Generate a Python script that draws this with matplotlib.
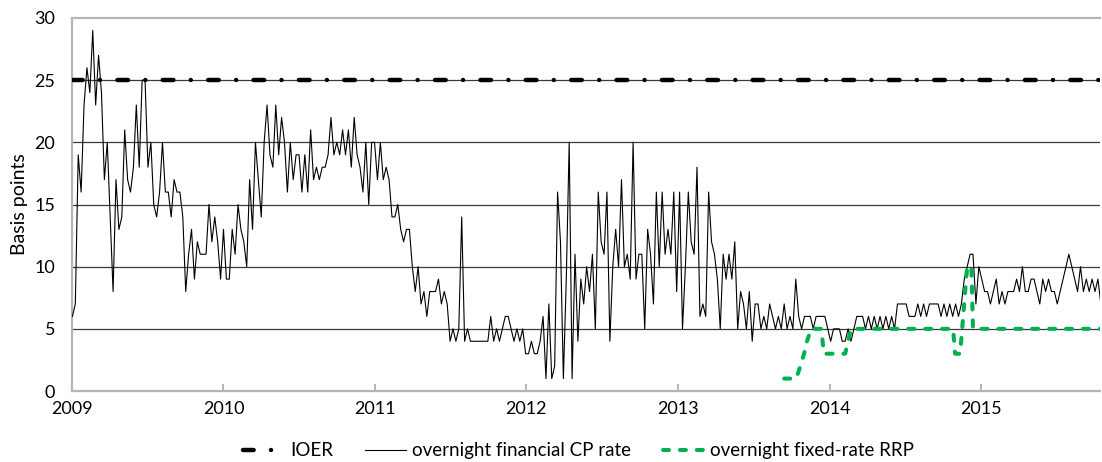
import matplotlib
matplotlib.use('Agg')
import matplotlib.pyplot as plt
import matplotlib.dates as mdates
import pandas as pd

plt.rcParams['font.family'] = ['Lato', 'DejaVu Sans']

# weekly overnight financial CP rate (bp), one list per year
cp_2009 = [6, 7, 19, 16, 23, 26, 24, 29, 23, 27, 24, 17, 20, 14, 8, 17, 13, 14, 21, 17,
           16, 18, 23, 18, 25, 25, 18, 20, 15, 14, 16, 20, 16, 16, 14, 17, 16, 16, 14, 8,
           11, 13, 9, 12, 11, 11, 11, 15, 12, 14, 12, 9]
cp_2010 = [13, 9, 9, 13, 11, 15, 13, 12, 10, 17, 13, 20, 17, 14, 20, 23, 19, 18, 23, 19,
           22, 20, 16, 20, 17, 19, 19, 16, 19, 16, 21, 17, 18, 17, 18, 18, 19, 22, 19, 20,
           19, 21, 19, 21, 18, 22, 19, 18, 16, 20, 15, 20]
cp_2011 = [20, 17, 20, 17, 18, 17, 14, 14, 15, 13, 12, 13, 13, 10, 8, 10, 7, 8, 6, 8,
           8, 8, 9, 7, 8, 7, 4, 5, 4, 5, 14, 4, 5, 4, 4, 4, 4, 4, 4, 4,
           6, 4, 5, 4, 5, 6, 6, 5, 4, 5, 4, 5]
cp_2012 = [3, 3, 4, 3, 3, 4, 6, 1, 7, 1, 2, 16, 12, 1, 9, 20, 1, 11, 4, 9,
           7, 10, 8, 11, 5, 16, 12, 11, 16, 4, 10, 13, 10, 17, 10, 11, 9, 20, 9, 11,
           11, 5, 13, 11, 7, 16, 10, 16, 11, 13, 11, 16, 8]
cp_2013 = [16, 5, 10, 16, 12, 11, 18, 6, 7, 6, 16, 12, 11, 9, 5, 11, 9, 11, 9, 12,
           5, 8, 7, 5, 8, 4, 7, 7, 5, 6, 5, 7, 6, 5, 6, 5, 7, 5, 6, 5,
           9, 6, 5, 6, 6, 6, 5, 6, 6, 6, 6, 5]
cp_2014 = [4, 5, 5, 5, 4, 4, 5, 4, 5, 6, 6, 6, 5, 6, 5, 6, 5, 6, 5, 6,
           5, 6, 5, 7, 7, 7, 7, 6, 6, 6, 7, 6, 7, 6, 7, 7, 7, 7, 6, 7,
           6, 7, 6, 7, 6, 7, 9, 10, 11, 11, 7, 10]
cp_2015 = [9, 8, 8, 7, 8, 9, 7, 8, 7, 8, 8, 8, 9, 8, 10, 8, 8, 9, 9, 8,
           7, 9, 8, 9, 8, 8, 7, 8, 9, 10, 11, 10, 9, 8, 10, 8, 9, 8, 9, 8,
           9, 7]
cp_rate = cp_2009 + cp_2010 + cp_2011 + cp_2012 + cp_2013 + cp_2014 + cp_2015
cp_dates = pd.date_range('2009-01-02', periods=len(cp_rate), freq='7D')

# interest on excess reserves
ioer_dates = pd.to_datetime(['2009-01-01', '2015-10-14'])
ioer = [25, 25]

# overnight fixed-rate RRP
rrp_dates = pd.to_datetime(['2013-09-13', '2013-10-12', '2013-10-22', '2013-10-31',
                            '2013-11-07', '2013-11-17', '2013-12-11', '2013-12-18',
                            '2014-02-07', '2014-02-21', '2014-10-25', '2014-10-30',
                            '2014-11-11', '2014-11-28', '2014-12-08', '2014-12-12',
                            '2015-10-14'])
rrp = [1, 1, 2, 3, 4, 5, 5, 3, 3, 5, 5, 3, 3, 10, 10, 5, 5]

fig = plt.figure(figsize=(11.02, 4.62), dpi=100)
ax = fig.add_axes([72 / 1102, 1 - 391 / 462, 1028 / 1102, 373 / 462])

ax.plot(ioer_dates, ioer, color='black', lw=3.2, linestyle=(0, (2.4, 3.9, 0.01, 3.9)),
        dash_capstyle='round', label='IOER', zorder=3)
ax.plot(cp_dates, cp_rate, color='black', lw=0.8,
        label='overnight financial CP rate', zorder=4)
ax.plot(rrp_dates, rrp, color='#00B050', lw=2.9, linestyle=(0, (1.5, 2.7)),
        dash_capstyle='round', label='overnight fixed-rate RRP', zorder=5)

ax.set_ylim(0, 30)
ax.set_yticks(range(0, 31, 5))
ax.set_xlim(pd.Timestamp('2009-01-01'), pd.Timestamp('2015-10-14'))
ax.xaxis.set_major_locator(mdates.YearLocator())
ax.xaxis.set_major_formatter(mdates.DateFormatter('%Y'))

for y in range(5, 30, 5):
    ax.axhline(y, color='#3a3a3a', lw=0.9, zorder=1)

for side in ['left', 'bottom', 'top']:
    ax.spines[side].set_color('#b5b5b5')
    ax.spines[side].set_linewidth(1.6)
ax.spines['right'].set_visible(False)

ax.tick_params(axis='y', length=0, pad=12, labelsize=13)
ax.tick_params(axis='x', direction='in', length=5, width=1.4, color='#b5b5b5',
               pad=7, labelsize=13)
ax.set_ylabel('Basis points', fontsize=14, labelpad=5)

fig.legend(loc='center', bbox_to_anchor=(0.525, 0.024), ncol=3, frameon=False,
           fontsize=13.5, handlelength=2.2, columnspacing=1.7, handletextpad=0.3)

fig.savefig('out.png', dpi=100)
